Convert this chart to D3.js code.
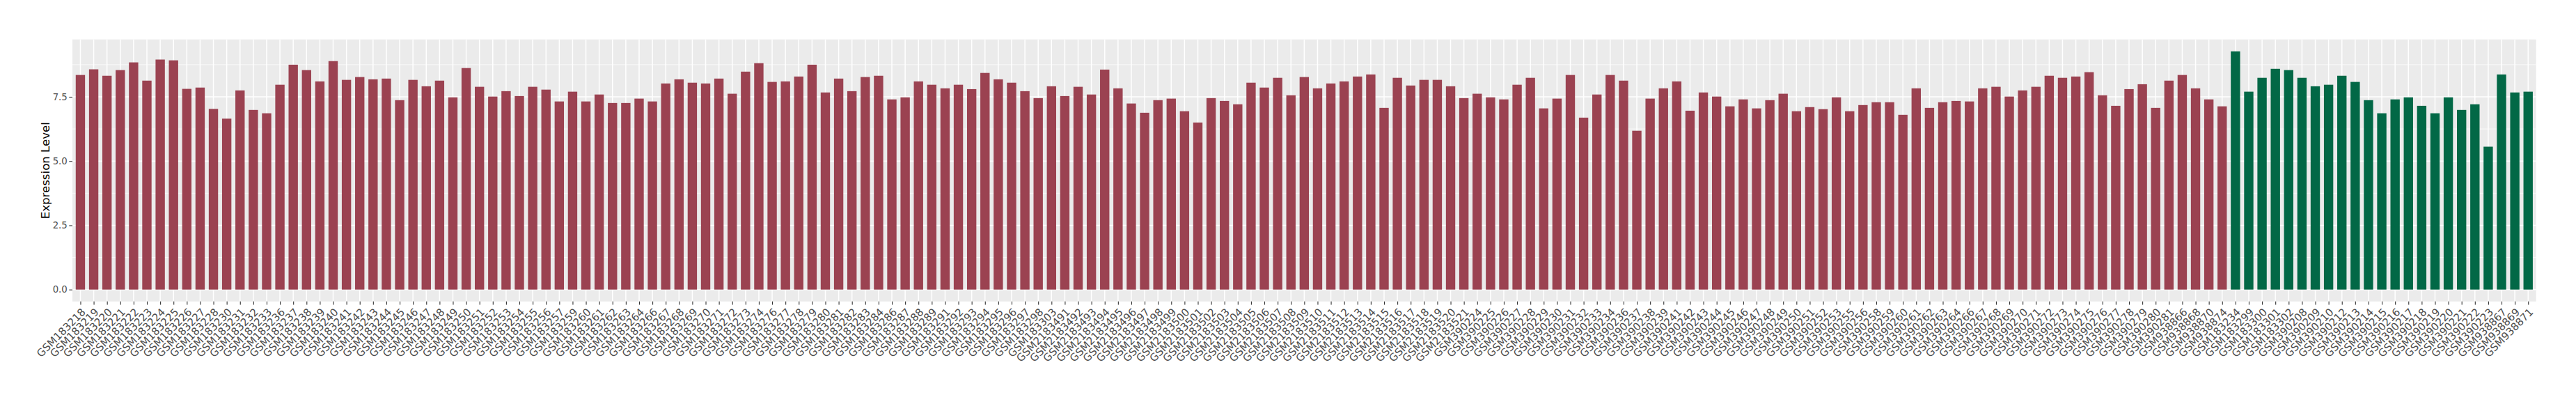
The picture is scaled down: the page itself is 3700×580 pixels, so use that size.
<!DOCTYPE html>
<html><head><meta charset="utf-8">
<script src="https://cdn.jsdelivr.net/npm/d3@7"></script>
<style>body{margin:0;background:#fff}</style>
</head><body>
<svg id="chart" width="3700" height="580"></svg>
<script>
// ---- data ----
const categoriesA = [
"GSM183218","GSM183219","GSM183220","GSM183221","GSM183222","GSM183223","GSM183224","GSM183225","GSM183226","GSM183227","GSM183228",
"GSM183230","GSM183231","GSM183232","GSM183233",
"GSM183236","GSM183237","GSM183238","GSM183239","GSM183240","GSM183241","GSM183242","GSM183243","GSM183244","GSM183245","GSM183246",
"GSM183247","GSM183248","GSM183249","GSM183250","GSM183251","GSM183252","GSM183253","GSM183254","GSM183255","GSM183256","GSM183257",
"GSM183259","GSM183260","GSM183261","GSM183262","GSM183263","GSM183264","GSM183266","GSM183267","GSM183268","GSM183269","GSM183270",
"GSM183271","GSM183272","GSM183273","GSM183274","GSM183276","GSM183277","GSM183278","GSM183279","GSM183280","GSM183281","GSM183282",
"GSM183283","GSM183284","GSM183286","GSM183287","GSM183288","GSM183289","GSM183291","GSM183292","GSM183293","GSM183294","GSM183295",
"GSM183296","GSM183297","GSM183298","GSM183303",
"GSM2183491","GSM2183492","GSM2183493","GSM2183494","GSM2183495","GSM2183496","GSM2183497","GSM2183498","GSM2183499","GSM2183500",
"GSM2183501","GSM2183502","GSM2183503","GSM2183504","GSM2183505","GSM2183506","GSM2183507","GSM2183508","GSM2183509","GSM2183510",
"GSM2183511","GSM2183512","GSM2183513","GSM2183514","GSM2183515","GSM2183516","GSM2183517","GSM2183518","GSM2183519","GSM2183520","GSM2183521",
"GSM390224","GSM390225","GSM390226","GSM390227","GSM390228","GSM390229","GSM390230","GSM390231","GSM390232","GSM390233","GSM390234",
"GSM390236","GSM390237","GSM390238","GSM390239","GSM390241","GSM390242","GSM390243","GSM390244","GSM390245","GSM390246","GSM390247",
"GSM390248","GSM390249","GSM390250","GSM390251","GSM390252","GSM390253","GSM390255","GSM390256","GSM390258","GSM390259","GSM390260",
"GSM390261","GSM390262","GSM390263","GSM390264","GSM390266","GSM390267","GSM390268","GSM390269","GSM390270","GSM390271","GSM390272",
"GSM390273","GSM390274","GSM390275","GSM390276","GSM390277","GSM390278","GSM390279","GSM390280","GSM390281",
"GSM938866","GSM938868","GSM938870","GSM938874"
];
const valuesA = [
8.35,8.57,8.32,8.54,8.84,8.13,8.95,8.92,7.81,7.86,7.03,
6.65,7.75,6.99,6.86,
7.97,8.75,8.54,8.10,8.89,8.16,8.27,8.18,8.21,7.37,8.16,
7.91,8.13,7.48,8.62,7.89,7.51,7.72,7.53,7.89,7.78,7.32,
7.70,7.32,7.59,7.26,7.26,7.43,7.32,8.02,8.18,8.05,8.02,
8.21,7.62,8.48,8.81,8.08,8.10,8.29,8.75,7.67,8.21,7.72,
8.27,8.32,7.40,7.48,8.10,7.97,7.83,7.97,7.80,8.43,8.18,
8.05,7.72,7.45,7.91,
7.53,7.89,7.59,8.56,7.83,7.24,6.88,7.37,7.43,6.94,
6.50,7.45,7.34,7.21,8.05,7.86,8.24,7.56,8.27,7.83,
8.02,8.10,8.29,8.37,7.07,8.24,7.94,8.16,8.16,7.91,7.45,
7.62,7.48,7.40,7.97,8.24,7.05,7.43,8.35,6.69,7.59,8.35,
8.13,6.18,7.43,7.83,8.10,6.96,7.67,7.51,7.13,7.40,7.05,
7.37,7.62,6.94,7.10,7.02,7.48,6.94,7.18,7.29,7.29,6.80,
7.83,7.07,7.29,7.34,7.32,7.83,7.89,7.51,7.75,7.89,8.32,
8.24,8.29,8.46,7.56,7.15,7.80,7.99,7.07,8.13,
8.35,7.83,7.40,7.13
];
const categoriesB = [
"GSM183234","GSM183299","GSM183300","GSM183301","GSM183302",
"GSM390208","GSM390209","GSM390210","GSM390212","GSM390213","GSM390214","GSM390215","GSM390216",
"GSM390217","GSM390218","GSM390219","GSM390220","GSM390221","GSM390222","GSM390223",
"GSM938867","GSM938869","GSM938871"
];
const valuesB = [
9.27,7.70,8.24,8.59,8.54,
8.24,7.91,7.97,8.32,8.08,7.37,6.86,7.40,
7.48,7.15,6.86,7.48,6.99,7.21,5.56,
8.37,7.67,7.70
];
const yTicks = [0, 2.5, 5.0, 7.5];
const yMinor = [1.25, 3.75, 6.25, 8.75];
const yTitle = "Expression Level";

// ---- build table ----
const data = categoriesA.map((c, i) => ({cat: c, val: valuesA[i], grp: "A"}))
  .concat(categoriesB.map((c, i) => ({cat: c, val: valuesB[i], grp: "B"})));
const colors = {A: "#9B4251", B: "#026846"};

// ---- layout ----
const panel = {left: 104, right: 3642.7, top: 56.6, bottom: 432.8};
const svg = d3.select("#chart");
const font = "'DejaVu Sans', sans-serif";

const x = d3.scalePoint().domain(data.map(d => d.cat))
  .range([panel.left, panel.right]).padding(0.6);
const step = x.step();
const barW = step * 0.7;

const maxV = d3.max(data, d => d.val);
const ext = maxV * 0.05;
const y = d3.scaleLinear().domain([0 - ext, maxV + ext]).range([panel.bottom, panel.top]);

// panel background
svg.append("rect").attr("x", panel.left).attr("y", panel.top)
  .attr("width", panel.right - panel.left).attr("height", panel.bottom - panel.top)
  .attr("fill", "#EBEBEB");

const grid = svg.append("g");
grid.selectAll("line.minor").data(yMinor).join("line")
  .attr("x1", panel.left).attr("x2", panel.right)
  .attr("y1", d => y(d)).attr("y2", d => y(d))
  .attr("stroke", "#fff").attr("stroke-width", 0.75);
grid.selectAll("line.majory").data(yTicks).join("line")
  .attr("x1", panel.left).attr("x2", panel.right)
  .attr("y1", d => y(d)).attr("y2", d => y(d))
  .attr("stroke", "#fff").attr("stroke-width", 1.5);
grid.selectAll("line.majorx").data(data).join("line")
  .attr("x1", d => x(d.cat)).attr("x2", d => x(d.cat))
  .attr("y1", panel.top).attr("y2", panel.bottom)
  .attr("stroke", "#fff").attr("stroke-width", 1.5);

// bars
svg.append("g").selectAll("rect").data(data).join("rect")
  .attr("x", d => x(d.cat) - barW / 2)
  .attr("width", barW)
  .attr("y", d => y(d.val))
  .attr("height", d => y(0) - y(d.val))
  .attr("fill", d => colors[d.grp]);

// y axis
const yAxis = svg.append("g").attr("transform", `translate(${panel.left},0)`)
  .call(d3.axisLeft(y).tickValues(yTicks).tickFormat(d3.format(".1f")).tickSize(4.7).tickPadding(2.5));
yAxis.select(".domain").remove();
yAxis.selectAll(".tick line").attr("stroke", "#333333").attr("stroke-width", 1.1);
yAxis.selectAll(".tick text").attr("fill", "#4D4D4D").style("font-family", font).style("font-size", "13.3px");

// x axis
const xAxis = svg.append("g").attr("transform", `translate(0,${panel.bottom})`)
  .call(d3.axisBottom(x).tickSize(4.7).tickPadding(0));
xAxis.select(".domain").remove();
xAxis.selectAll(".tick line").attr("stroke", "#333333").attr("stroke-width", 1.1);
xAxis.selectAll(".tick text")
  .attr("fill", "#4D4D4D").style("font-family", font).style("font-size", "15px")
  .attr("text-anchor", "end")
  .attr("x", 0).attr("y", 0).attr("dy", "0.73em")
  .attr("transform", "translate(0,8.5) rotate(-45)");

// y title
svg.append("text")
  .attr("transform", `translate(${70.5},${(panel.top + panel.bottom) / 2}) rotate(-90)`)
  .attr("text-anchor", "middle")
  .style("font-family", font).style("font-size", "16.6px").attr("fill", "#000")
  .text(yTitle);
</script>
</body></html>
